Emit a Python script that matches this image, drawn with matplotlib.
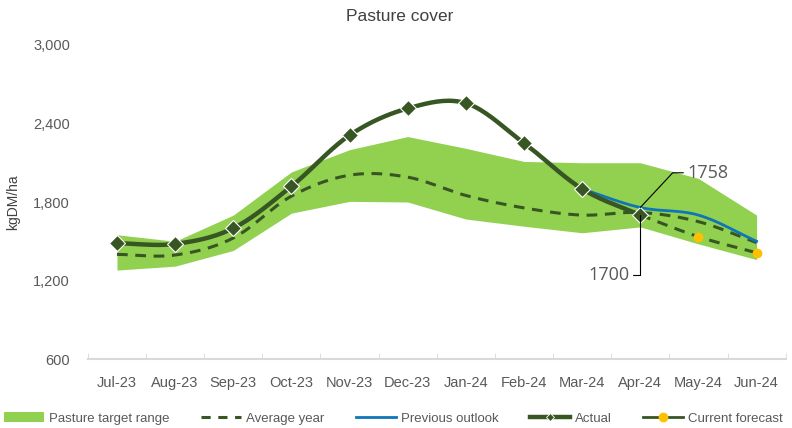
import numpy as np
import matplotlib
matplotlib.use("Agg")
import matplotlib.pyplot as plt
from matplotlib.patches import Patch
from matplotlib.lines import Line2D

plt.rcParams['font.family'] = ['Liberation Sans', 'DejaVu Sans']

months = ['Jul-23', 'Aug-23', 'Sep-23', 'Oct-23', 'Nov-23', 'Dec-23',
          'Jan-24', 'Feb-24', 'Mar-24', 'Apr-24', 'May-24', 'Jun-24']

# pasture target range (band)
target_low = [1280, 1310, 1430, 1715, 1805, 1800, 1670, 1615, 1565, 1610, 1480, 1360]
target_high = [1550, 1500, 1700, 2030, 2200, 2300, 2210, 2110, 2100, 2100, 1980, 1700]

average_year = [1400, 1395, 1525, 1845, 2005, 1990, 1850, 1755, 1700, 1720, 1650, 1490]
actual = [1485, 1480, 1600, 1920, 2310, 2515, 2555, 2250, 1900, 1700]
previous_outlook = [1900, 1758, 1700, 1500]     # Mar-24 .. Jun-24
current_forecast = [1700, 1535, 1412]           # Apr-24 .. Jun-24

DARK = '#375623'
LIGHT = '#92D050'
BLUE = '#0E76B8'
YELLOW = '#FFC000'
GREY = '#595959'


def smooth(xs, ys, n=20):
    # Catmull-Rom curve through the points (like Excel's smoothed line)
    xs = np.asarray(xs, float)
    ys = np.asarray(ys, float)
    px = np.concatenate([[2 * xs[0] - xs[1]], xs, [2 * xs[-1] - xs[-2]]])
    py = np.concatenate([[2 * ys[0] - ys[1]], ys, [2 * ys[-1] - ys[-2]]])
    ox, oy = [], []
    for i in range(1, len(px) - 2):
        t = np.linspace(0, 1, n, endpoint=False)
        for p, o in ((px, ox), (py, oy)):
            p0, p1, p2, p3 = p[i - 1], p[i], p[i + 1], p[i + 2]
            o.extend(0.5 * ((2 * p1) + (-p0 + p2) * t +
                            (2 * p0 - 5 * p1 + 4 * p2 - p3) * t ** 2 +
                            (-p0 + 3 * p1 - 3 * p2 + p3) * t ** 3))
    ox.append(xs[-1])
    oy.append(ys[-1])
    return np.array(ox), np.array(oy)


x = np.arange(len(months))

fig = plt.figure(figsize=(7.92, 4.28), dpi=100)
ax = fig.add_axes([0.111, 0.161, 0.881, 0.734])

ax.fill_between(x, target_low, target_high, color=LIGHT, linewidth=0, zorder=1)

sx, sy = smooth(x, average_year)
ax.plot(sx, sy, color=DARK, linestyle=(0, (3.5, 2.5)), linewidth=2.2, zorder=2)

xf = x[9:]
sx, sy = smooth(xf, current_forecast)
ax.plot(sx, sy, color=DARK, linestyle=(0, (3.5, 2.5)), linewidth=2.2, zorder=2)
ax.plot(xf[1:], current_forecast[1:], 'o', color=YELLOW, markersize=6, zorder=5)

xp = x[8:]
sx, sy = smooth(xp, previous_outlook)
ax.plot(sx, sy, color=BLUE, linewidth=2.0, zorder=3)

xa = x[:len(actual)]
sx, sy = smooth(xa, actual)
ax.plot(sx, sy, color=DARK, linewidth=3.2, zorder=4)
ax.plot(xa, actual, 'D', color=DARK, markersize=8, markeredgecolor='white',
        markeredgewidth=0.8, zorder=6)

# data labels with leader lines
ax.annotate('1758', xy=(9, previous_outlook[1]), xytext=(34, 25), textcoords='offset points',
            fontsize=13, color=GREY, family=['Open Sans', 'DejaVu Sans'], va='center', ha='left',
            arrowprops=dict(arrowstyle='-', color='black', lw=0.8,
                            connectionstyle='angle,angleA=0,angleB=47,rad=0',
                            shrinkA=1, shrinkB=0), zorder=7)
ax.annotate('1700', xy=(9, actual[-1]), xytext=(-8, -43), textcoords='offset points',
            fontsize=13, color=GREY, family=['Open Sans', 'DejaVu Sans'], va='center', ha='right',
            arrowprops=dict(arrowstyle='-', color='black', lw=0.8,
                            connectionstyle='angle,angleA=0,angleB=90,rad=0',
                            shrinkA=1, shrinkB=0), zorder=7)

ax.set_xlim(-0.5, len(months) - 0.5)
ax.set_ylim(600, 3000)
ax.set_yticks([600, 1200, 1800, 2400, 3000])
ax.set_yticklabels(['600', '1,200', '1,800', '2,400', '3,000'])
ax.set_xticks(x)
ax.set_xticklabels(months)
ax.set_xticks(np.arange(-0.5, len(months)), minor=True)
ax.tick_params(axis='x', which='major', length=0, pad=12, labelsize=10.5, labelcolor=GREY)
ax.tick_params(axis='x', which='minor', length=4, color='#D9D9D9', direction='in')
ax.tick_params(axis='y', length=0, pad=13, labelsize=10.5, labelcolor=GREY)

for s in ['top', 'right', 'left']:
    ax.spines[s].set_visible(False)
ax.spines['bottom'].set_color('#D9D9D9')
ax.spines['bottom'].set_linewidth(1.5)

ax.set_ylabel('kgDM/ha', fontsize=10, color='#404040', labelpad=9)
fig.text(0.505, 0.962, 'Pasture cover', ha='center', va='center', fontsize=12.5, color='#404040')

handles = [
    Patch(facecolor=LIGHT, edgecolor='none'),
    Line2D([], [], color=DARK, linestyle=(0, (3, 2.5)), linewidth=2.2),
    Line2D([], [], color=BLUE, linewidth=2.0),
    Line2D([], [], color=DARK, linewidth=3.2, marker='D', markersize=4,
           markeredgecolor='white', markeredgewidth=0.6),
    Line2D([], [], color=DARK, linewidth=2.0, marker='o', markersize=6,
           markerfacecolor=YELLOW, markeredgecolor=YELLOW),
]
labels = ['Pasture target range', 'Average year', 'Previous outlook', 'Actual', 'Current forecast']
fig.legend(handles, labels, loc='center', bbox_to_anchor=(0.497, 0.022), ncol=5, frameon=False,
           fontsize=9.5, handlelength=3.0, columnspacing=2.4, handletextpad=0.4,
           labelcolor=GREY, borderaxespad=0, borderpad=0)

fig.savefig('out.png', dpi=100)
